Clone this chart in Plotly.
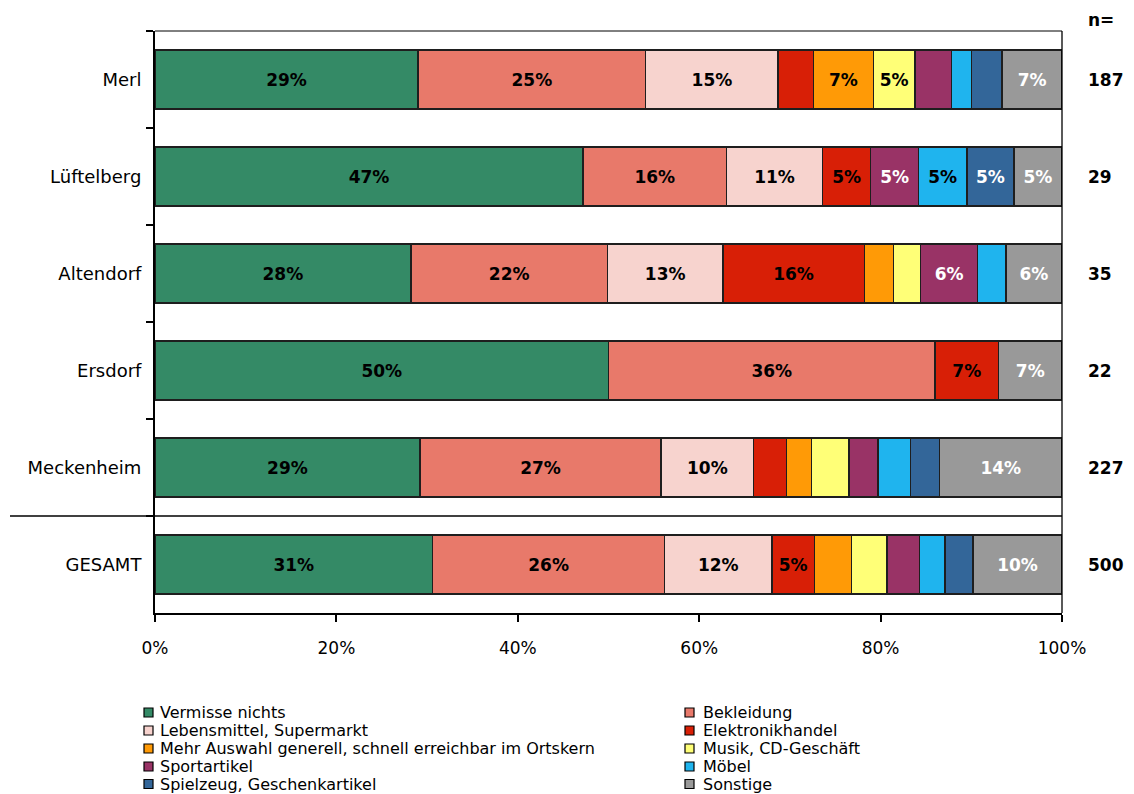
import plotly.graph_objects as go

# Orte (Zeilen von oben nach unten) und Stichprobengrößen
orte = ["Merl", "Lüftelberg", "Altendorf", "Ersdorf", "Meckenheim", "GESAMT"]
n_werte = [187, 29, 35, 22, 227, 500]

# Antwortkategorien und Farben
kategorien = [
    "Vermisse nichts",
    "Bekleidung",
    "Lebensmittel, Supermarkt",
    "Elektronikhandel",
    "Mehr Auswahl generell, schnell erreichbar im Ortskern",
    "Musik, CD-Geschäft",
    "Sportartikel",
    "Möbel",
    "Spielzeug, Geschenkartikel",
    "Sonstige",
]
farben = ["#348a66", "#e8796a", "#f7d3ce", "#d81f06", "#ff9a06",
          "#ffff77", "#993366", "#1fb4ee", "#336699", "#999999"]
textfarben = ["black", "black", "black", "black", "black",
              "black", "white", "black", "white", "white"]

# Anteile in Prozent je Kategorie, Reihenfolge wie 'orte'
vermisse_nichts = [29.0, 47.2, 28.2, 50.0, 29.2, 30.6]
bekleidung      = [25.1, 15.8, 21.7, 36.0, 26.6, 25.6]
lebensmittel    = [14.6, 10.6, 12.7, 0.0, 10.2, 11.8]
elektronik      = [3.9, 5.3, 15.6, 7.0, 3.6, 4.7]
mehr_auswahl    = [6.6, 0.0, 3.2, 0.0, 2.8, 4.1]
musik           = [4.6, 0.0, 3.0, 0.0, 4.1, 3.9]
sportartikel    = [4.0, 5.3, 6.3, 0.0, 3.2, 3.6]
moebel          = [2.2, 5.3, 3.1, 0.0, 3.6, 2.8]
spielzeug       = [3.4, 5.2, 0.0, 0.0, 3.2, 3.1]
sonstige        = [6.6, 5.3, 6.2, 7.0, 13.5, 9.8]

serien = [vermisse_nichts, bekleidung, lebensmittel, elektronik, mehr_auswahl,
          musik, sportartikel, moebel, spielzeug, sonstige]

SCHRIFT = "DejaVu Sans"
W, H = 1134, 794
L, R, T, B = 155, 72, 31, 181
PW, PH = W - L - R, H - T - B


def px_x(px):
    return (px - L) / PW


def px_y(py):
    return (H - B - py) / PH


fig = go.Figure()
for name, werte, farbe, tf in zip(kategorien, serien, farben, textfarben):
    texte = [f"{round(v):.0f}%" if v >= 4.5 else "" for v in werte]
    fig.add_trace(go.Bar(
        name=name, y=orte, x=werte, orientation="h",
        marker=dict(color=farbe, line=dict(color="#1e1e1e", width=1.5)),
        text=texte, textposition="inside", insidetextanchor="middle",
        textangle=0,
        textfont=dict(family=SCHRIFT, size=17, color=tf, weight="bold"),
        hoverinfo="skip", showlegend=False,
    ))

fig.update_layout(
    width=W, height=H,
    margin=dict(l=L, r=R, t=T, b=B),
    barmode="stack", bargap=0.39,
    plot_bgcolor="white", paper_bgcolor="white",
    font=dict(family=SCHRIFT, size=17, color="black"),
    uniformtext=dict(minsize=17, mode="show"),
    showlegend=False,
)
fig.update_xaxes(
    range=[0, 100], dtick=20, ticksuffix="%",
    showgrid=False, zeroline=False,
    showline=True, linecolor="black", linewidth=2,
    ticks="outside", ticklen=7, tickwidth=2, tickcolor="black",
    ticklabelstandoff=12,
    tickfont=dict(family=SCHRIFT, size=17),
)
fig.update_yaxes(
    categoryorder="array", categoryarray=orte, autorange="reversed",
    showgrid=False, zeroline=False,
    showline=True, linecolor="black", linewidth=2,
    ticks="outside", ticklen=7, tickwidth=2, tickcolor="black",
    tickson="boundaries", ticklabelstandoff=8,
    tickfont=dict(family=SCHRIFT, size=18),
)

# dünner Rahmen oben und rechts
fig.add_shape(type="line", xref="paper", yref="paper", x0=0, x1=1, y0=1, y1=1,
              line=dict(color="black", width=1))
fig.add_shape(type="line", xref="paper", yref="paper", x0=1, x1=1, y0=0, y1=1,
              line=dict(color="black", width=1.3))

# Trennlinie vor der Gesamtzeile
fig.add_shape(type="line", xref="paper", yref="y", x0=px_x(10), x1=1,
              y0=len(orte) - 1.5, y1=len(orte) - 1.5,
              line=dict(color="black", width=1.3))

# Stichprobengrößen rechts
fig.add_annotation(xref="paper", yref="paper", x=px_x(1086), y=px_y(20),
                   text="<b>n=</b>", showarrow=False,
                   xanchor="left", yanchor="middle",
                   font=dict(family=SCHRIFT, size=17))
for ort, n in zip(orte, n_werte):
    fig.add_annotation(xref="paper", yref="y", x=px_x(1086), y=ort,
                       text=f"<b>{n}</b>", showarrow=False,
                       xanchor="left", yanchor="middle",
                       font=dict(family=SCHRIFT, size=17))

# Legende in zwei Spalten
spalten_px = [(144, 158), (685, 701)]
zeilen_px = [712.5, 730.5, 748.5, 766.5, 784.0]
for i, (name, farbe) in enumerate(zip(kategorien, farben)):
    zeile, spalte = divmod(i, 2)
    qx, tx = spalten_px[spalte]
    cy = zeilen_px[zeile]
    fig.add_shape(type="rect", xref="paper", yref="paper",
                  x0=px_x(qx), x1=px_x(qx + 9), y0=px_y(cy - 4.5), y1=px_y(cy + 4.5),
                  fillcolor=farbe, line=dict(color="black", width=1.2))
    fig.add_annotation(xref="paper", yref="paper", x=px_x(tx), y=px_y(cy),
                       text=name, showarrow=False, xanchor="left", yanchor="middle",
                       font=dict(family=SCHRIFT, size=16))

fig.write_html("out.html")
